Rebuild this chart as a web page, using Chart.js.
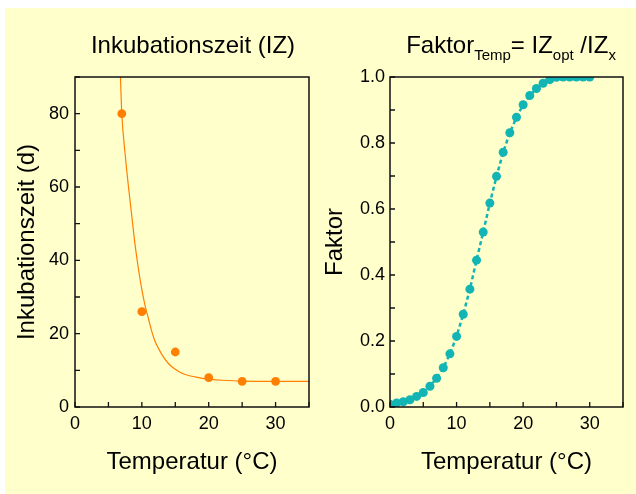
<!DOCTYPE html>
<html>
<head>
<meta charset="utf-8">
<script src="https://cdn.jsdelivr.net/npm/chart.js@4/dist/chart.umd.min.js"></script>
<style>
  html, body { margin: 0; padding: 0; background: #ffffff; }
  #page { position: relative; width: 636px; height: 494px; overflow: hidden; font-family: "Liberation Sans", Arial, sans-serif; }
  #panel { position: absolute; left: 5px; top: 8px; width: 631px; height: 486px; background: #FFFFCC; }
  canvas { position: absolute; top: 0; }
  #c1 { left: 0; }
  #c2 { left: 318px; }
  .title { position: absolute; font-size: 24px; line-height: 28px; color: #000; white-space: nowrap; transform: translateX(-50%); }
  .title sub { font-size: 15px; vertical-align: -7px; line-height: 0; }
</style>
</head>
<body>
<div id="page">
  <div id="panel"></div>
  <canvas id="c1" width="318" height="494"></canvas>
  <canvas id="c2" width="318" height="494"></canvas>
  <div class="title" style="left:193px; top:31px;">Inkubationszeit (IZ)</div>
  <div class="title" style="left:511px; top:31px;">Faktor<sub>Temp</sub>= IZ<sub>opt</sub> /IZ<sub>x</sub></div>
</div>
<script>
// ---- data ----
const measuredTemp = [7, 10, 15, 20, 25, 30];
const measuredIZ = [80, 26, 15, 8, 7, 7];

const fitTemp = [6.7, 6.8, 7, 7.5, 8, 8.5, 9, 9.5, 10, 10.5, 11, 11.5, 12, 13, 14, 15, 16, 17, 18, 19, 20, 22, 25, 30, 35];
const fitIZ   = [96, 90, 80, 69, 60, 52, 44, 37.5, 32, 27.5, 24, 20.5, 17.8, 14.3, 11.8, 10.3, 9.2, 8.6, 8.2, 7.8, 7.6, 7.3, 7.05, 7, 7];

const factorTemp = [0,1,2,3,4,5,6,7,8,9,10,11,12,13,14,15,16,17,18,19,20,21,22,23,24,25,26,27,28,29,30];
const factorValues = [0.008,0.012,0.016,0.022,0.032,0.044,0.063,0.087,0.119,0.161,0.214,0.281,0.357,0.445,0.530,0.618,0.699,0.772,0.831,0.878,0.916,0.944,0.965,0.981,0.992,0.999,1,1,1,1,1];

const xTitle = 'Temperatur (°C)';
const yTitleLeft = 'Inkubationszeit (d)';
const yTitleRight = 'Faktor';

// ---- styling ----
const FONT = '"Liberation Sans", Arial, sans-serif';
Chart.defaults.color = '#000';
Chart.defaults.font.family = FONT;
const ORANGE = '#FF7F00';
const TEAL = '#12B4B4';

const frameTicks = {
  id: 'frameTicks',
  afterDraw(chart) {
    const {ctx, chartArea: a} = chart;
    const xs = chart.scales.x, ys = chart.scales.y;
    ctx.save();
    ctx.strokeStyle = '#111';
    ctx.lineWidth = 1.5;
    ctx.strokeRect(a.left, a.top, a.right - a.left, a.bottom - a.top);
    ctx.lineWidth = 1.3;
    ctx.beginPath();
    xs.ticks.forEach(t => {
      const px = xs.getPixelForValue(t.value);
      ctx.moveTo(px, a.bottom);
      ctx.lineTo(px, a.bottom - 5);
    });
    ys.ticks.forEach(t => {
      const py = ys.getPixelForValue(t.value);
      ctx.moveTo(a.left, py);
      ctx.lineTo(a.left + 5, py);
    });
    ctx.stroke();
    ctx.restore();
  }
};

function xScale() {
  return {
    type: 'linear', min: 0, max: 35,
    grid: { display: false, drawTicks: false },
    border: { display: false },
    ticks: { stepSize: 5, padding: 6, font: { size: 18 }, maxRotation: 0, autoSkip: false,
      callback: v => (v % 10 === 0 ? String(v) : '') },
    title: { display: true, text: xTitle, font: { size: 24 }, padding: { top: 0, bottom: 17 } },
    afterFit(s) { s.height = 87; }
  };
}

new Chart(document.getElementById('c1'), {
  type: 'scatter',
  data: {
    datasets: [
      {
        data: fitTemp.map((t, i) => ({ x: t, y: fitIZ[i] })),
        showLine: true, borderColor: ORANGE, borderWidth: 1.2,
        pointRadius: 0, cubicInterpolationMode: 'monotone', fill: false
      },
      {
        data: measuredTemp.map((t, i) => ({ x: t, y: measuredIZ[i] })),
        showLine: false, pointRadius: 4.4, pointBackgroundColor: ORANGE,
        pointBorderWidth: 0, borderColor: ORANGE
      }
    ]
  },
  options: {
    responsive: false, animation: false, events: [],
    layout: { padding: { top: 77, right: 9, left: 0, bottom: 0 } },
    plugins: { legend: { display: false }, tooltip: { enabled: false } },
    scales: {
      x: xScale(),
      y: {
        type: 'linear', min: 0, max: 90,
        grid: { display: false, drawTicks: false },
        border: { display: false },
        ticks: { stepSize: 10, padding: 6, font: { size: 18 }, autoSkip: false,
          callback: v => (v % 20 === 0 ? String(v) : '') },
        title: { display: true, text: yTitleLeft, font: { size: 24 }, padding: { top: 13, bottom: 0 } },
        afterFit(s) { s.width = 75; }
      }
    }
  },
  plugins: [frameTicks]
});

new Chart(document.getElementById('c2'), {
  type: 'scatter',
  data: {
    datasets: [
      {
        data: factorTemp.map((t, i) => ({ x: t, y: factorValues[i] })),
        showLine: true, borderColor: TEAL, borderWidth: 2.5, borderDash: [4, 3],
        pointRadius: 4.5, pointBackgroundColor: TEAL, pointBorderWidth: 0, fill: false
      }
    ]
  },
  options: {
    responsive: false, animation: false, events: [],
    layout: { padding: { top: 77, right: 13, left: 0, bottom: 0 } },
    plugins: { legend: { display: false }, tooltip: { enabled: false } },
    scales: {
      x: xScale(),
      y: {
        type: 'linear', min: 0, max: 1,
        grid: { display: false, drawTicks: false },
        border: { display: false },
        ticks: { stepSize: 0.1, padding: 5, font: { size: 18 }, autoSkip: false,
          callback: v => (Math.round(v * 10) % 2 === 0 ? v.toFixed(1) : '') },
        title: { display: true, text: yTitleRight, font: { size: 24 }, padding: { top: 3, bottom: 0 } },
        afterFit(s) { s.width = 72; }
      }
    }
  },
  plugins: [frameTicks]
});
</script>
</body>
</html>
